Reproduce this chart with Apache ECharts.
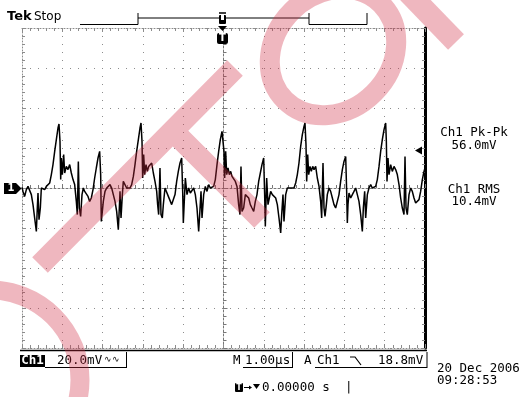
<!DOCTYPE html>
<html><head><meta charset="utf-8">
<script src="https://cdn.jsdelivr.net/npm/echarts@6/dist/echarts.min.js"></script>
<style>html,body{margin:0;padding:0;background:#fff}#c{width:520px;height:397px}</style>
</head><body><div id="c"></div>
<script>
const sweep1 = [[0.000,0.3],[0.025,-1.7],[0.066,-4.2],[0.108,-0.8],[0.149,0.8],[0.190,1.7],[0.232,-3.3],[0.273,-8.3],[0.314,-15.0],[0.356,-21.7],[0.380,-10.0],[0.397,-2.5],[0.422,-15.8],[0.455,-10.0],[0.480,0.0],[0.521,0.8],[0.563,-0.8],[0.604,0.8],[0.645,0.0],[0.687,2.5],[0.728,6.7],[0.769,11.7],[0.811,18.3],[0.852,24.2],[0.893,30.0],[0.918,32.0],[0.943,23.3],[0.960,4.2],[0.976,15.0],[1.001,6.7],[1.034,16.7],[1.059,7.5],[1.100,10.8],[1.141,9.2],[1.183,11.7],[1.224,7.5],[1.266,4.2],[1.307,1.7],[1.348,-6.7],[1.373,-13.3],[1.398,13.3],[1.423,-10.0],[1.455,-14.2],[1.489,-3.3],[1.522,0.0],[1.555,-1.7],[1.596,-0.8],[1.638,-4.2],[1.679,-6.7],[1.720,-5.0],[1.762,-0.8],[1.803,5.0],[1.844,10.0],[1.886,15.0],[1.927,18.3],[1.952,6.7],[1.968,-16.7]];
const sweep2 = [[2.018,-6.7],[2.060,-1.7],[2.101,0.0],[2.142,0.8],[2.184,1.7],[2.225,0.0],[2.266,-3.3],[2.308,-6.7],[2.349,-11.7],[2.390,-20.8],[2.415,-10.0],[2.432,-1.7],[2.457,-15.0],[2.490,-3.3],[2.514,3.3],[2.556,4.2],[2.597,0.0],[2.638,0.8],[2.680,0.0],[2.721,1.7],[2.763,5.8],[2.804,11.7],[2.845,18.3],[2.887,24.2],[2.928,30.0],[2.953,32.5],[2.978,23.3],[2.994,5.0],[3.019,16.7],[3.044,6.7],[3.077,11.7],[3.110,8.3],[3.143,10.8],[3.176,10.0],[3.218,12.5],[3.259,7.5],[3.300,3.3],[3.342,-1.7],[3.366,-8.3],[3.391,-13.3],[3.424,10.0],[3.449,-13.3],[3.482,-15.0],[3.507,-8.3],[3.548,0.0],[3.590,-0.8],[3.631,-4.2],[3.672,-5.0],[3.714,-8.3],[3.755,-7.5],[3.797,-3.3],[3.838,3.3],[3.879,8.3],[3.921,12.5],[3.962,15.0],[3.987,-1.7],[4.003,-17.5]];
const sweep3 = [[4.053,5.0],[4.094,-3.3],[4.136,0.0],[4.177,-2.5],[4.218,-1.7],[4.260,0.0],[4.301,-3.3],[4.342,-10.0],[4.384,-21.7],[4.409,-13.3],[4.442,-1.7],[4.467,-15.0],[4.508,-3.3],[4.549,0.8],[4.591,-1.7],[4.632,1.7],[4.673,0.0],[4.715,-0.8],[4.756,0.8],[4.797,4.2],[4.839,11.7],[4.880,18.3],[4.921,24.2],[4.963,28.3],[4.988,29.2],[5.012,18.3],[5.029,5.0],[5.054,18.3],[5.079,6.7],[5.112,10.0],[5.145,6.7],[5.178,8.3],[5.211,5.8],[5.252,5.0],[5.294,3.3],[5.335,0.8],[5.376,-8.3],[5.409,-13.3],[5.434,10.8],[5.459,-11.7],[5.500,-10.0],[5.542,-3.3],[5.583,-4.2],[5.625,-5.0],[5.666,-8.3],[5.707,-10.0],[5.749,-11.7],[5.790,-6.7],[5.831,-3.3],[5.873,3.3],[5.914,7.5],[5.955,11.7],[5.997,15.0],[6.021,-3.3],[6.038,-19.2]];
const sweep4 = [[6.071,5.0],[6.104,-8.3],[6.137,-5.0],[6.170,-1.7],[6.212,-3.3],[6.253,-2.5],[6.295,-5.0],[6.336,-8.3],[6.377,-15.0],[6.419,-22.5],[6.444,-13.3],[6.476,-3.3],[6.501,-16.7],[6.543,-3.3],[6.584,0.0],[6.625,0.8],[6.667,0.0],[6.708,0.8],[6.749,0.0],[6.791,2.5],[6.832,6.7],[6.873,12.5],[6.915,20.8],[6.956,26.7],[6.998,30.8],[7.022,32.5],[7.047,21.7],[7.064,3.3],[7.089,16.7],[7.114,6.7],[7.146,10.8],[7.179,8.3],[7.213,10.8],[7.246,9.2],[7.287,10.8],[7.328,5.0],[7.370,0.8],[7.411,-6.7],[7.436,-15.0],[7.469,12.5],[7.494,-10.0],[7.519,-14.2],[7.552,-8.3],[7.576,-3.3],[7.618,0.0],[7.659,-1.7],[7.701,-5.0],[7.742,-8.3],[7.783,-10.0],[7.825,-6.7],[7.866,-3.3],[7.907,3.3],[7.949,9.2],[7.990,13.3],[8.032,15.8],[8.056,-1.7],[8.073,-17.5]];
const sweep5 = [[8.089,-8.3],[8.114,-2.5],[8.156,-5.0],[8.197,-3.3],[8.238,-1.7],[8.280,0.0],[8.321,-3.3],[8.362,-6.7],[8.404,-13.3],[8.445,-21.7],[8.470,-10.0],[8.503,-1.7],[8.528,-15.0],[8.569,-3.3],[8.610,0.0],[8.652,1.7],[8.693,0.0],[8.734,-0.8],[8.776,0.8],[8.817,4.2],[8.859,10.8],[8.900,18.3],[8.941,24.2],[8.983,29.2],[9.024,32.5],[9.041,23.3],[9.057,3.3],[9.082,15.0],[9.107,6.7],[9.148,11.7],[9.189,8.3],[9.231,10.8],[9.272,9.2],[9.313,6.7],[9.355,1.7],[9.396,-5.0],[9.437,-10.0],[9.479,-13.3],[9.504,15.8],[9.529,-10.0],[9.561,-13.3],[9.603,-3.3],[9.644,0.0],[9.685,-1.7],[9.727,-5.0],[9.768,-7.5],[9.810,-8.3],[9.851,-5.8],[9.892,-1.7],[9.934,4.2],[9.975,8.3],[10.000,10.0]];

// ---- scope settings / readouts ----
const timeRangeUs = [0, 10];      // 10 divisions x 1.00 µs
const timePerDivUs = 1;
const voltRangeMv = [-80, 80];    // 8 divisions x 20.0 mV
const voltPerDivMv = 20;
const headerTexts = ['Tek', 'Stop'];
const readoutTexts = ['Ch1 Pk-Pk', '56.0mV', 'Ch1 RMS', '10.4mV'];
const statusTexts = ['Ch1', '20.0mV', 'M', '1.00µs', 'A', 'Ch1', '18.8mV'];
const dateTexts = ['20 Dec 2006', '09:28:53'];
const delayTexts = ['0.00000 s', '|'];

const trace = [].concat(sweep1, sweep2, sweep3, sweep4, sweep5);

const GRID = '#8c8c8c';
const MONO = '"DejaVu Sans Mono", monospace';
const SANS = '"DejaVu Sans", sans-serif';
const PINK = 'rgba(208,44,66,0.34)';

function borderAxis(extra) {
  return Object.assign({
    type: 'value', axisLabel: {show: false},
    axisLine: {show: true, onZero: false, lineStyle: {color: GRID, width: 1, type: [1, 2]}},
    axisTick: {show: true, inside: true, length: 4, lineStyle: {color: GRID}},
    minorTick: {show: true, splitNumber: 5, length: 3, lineStyle: {color: GRID}},
    splitLine: {show: false}
  }, extra);
}
const dotted = {color: GRID, width: 1, type: [1, 7]};

const chart = echarts.init(document.getElementById('c'), null, {renderer: 'canvas'});
const txt = (text, x, y, o) => ({type: 'text', silent: true, z: 10, style: Object.assign({text, x, y, fill: '#000', fontSize: 12.5, fontFamily: MONO, textVerticalAlign: 'middle'}, o || {})});
const ln = (x1, y1, x2, y2, w, c) => ({type: 'line', silent: true, z: 10, shape: {x1, y1, x2, y2}, style: {stroke: c || '#000', lineWidth: w || 1}});
const band = (x1, y1, x2, y2) => ({type: 'line', silent: true, z: 200, shape: {x1, y1, x2, y2}, style: {stroke: PINK, lineWidth: 22, lineCap: 'butt'}});

chart.setOption({
  animation: false,
  backgroundColor: '#fff',
  grid: {left: 22, top: 28, width: 403, height: 320, containLabel: false},
  xAxis: [
    borderAxis({min: timeRangeUs[0], max: timeRangeUs[1], interval: timePerDivUs, position: 'bottom', splitLine: {show: true, lineStyle: dotted}}),
    borderAxis({min: timeRangeUs[0], max: timeRangeUs[1], interval: timePerDivUs, position: 'top'}),
    borderAxis({min: timeRangeUs[0], max: timeRangeUs[1], interval: timePerDivUs, position: 'bottom', offset: -160,
      axisLine: {show: true, onZero: false, lineStyle: {color: '#777', width: 1, type: [2, 2]}},
      axisTick: {show: true, inside: true, length: 4, lineStyle: {color: '#777'}},
      minorTick: {show: true, splitNumber: 5, length: 3, lineStyle: {color: '#777'}}})
  ],
  yAxis: [
    borderAxis({min: voltRangeMv[0], max: voltRangeMv[1], interval: voltPerDivMv, position: 'left', splitLine: {show: true, lineStyle: dotted}}),
    borderAxis({min: voltRangeMv[0], max: voltRangeMv[1], interval: voltPerDivMv, position: 'right',
      axisLine: {show: true, onZero: false, lineStyle: {color: '#000', width: 3}}}),
    borderAxis({min: voltRangeMv[0], max: voltRangeMv[1], interval: voltPerDivMv, position: 'left', offset: -201.5,
      axisLine: {show: true, onZero: false, lineStyle: {color: '#777', width: 1, type: [2, 2]}},
      axisTick: {show: true, inside: true, length: 4, lineStyle: {color: '#777'}},
      minorTick: {show: true, splitNumber: 5, length: 3, lineStyle: {color: '#777'}}})
  ],
  series: [{
    type: 'line', xAxisIndex: 0, yAxisIndex: 0, data: trace,
    showSymbol: false, symbol: 'none', smooth: false,
    lineStyle: {color: '#000', width: 1.5}, z: 5
  }],
  graphic: [
    // header
    txt(headerTexts[0], 7, 17, {fontFamily: SANS, fontWeight: 'bold', fontSize: 13}),
    txt(headerTexts[1], 34, 17, {fontFamily: SANS, fontSize: 12}),
    // record bar
    ln(80, 24.5, 138, 24.5), ln(138, 13, 138, 24.5), ln(138, 18, 309, 18),
    ln(309, 13, 309, 24.5), ln(309, 24.5, 367, 24.5), ln(367, 13, 367, 24.5),
    ln(219, 13, 226, 13, 1.5),
    {type: 'rect', silent: true, z: 10, shape: {x: 219, y: 15, width: 7, height: 9, r: 1}, style: {fill: '#000'}},
    {type: 'rect', silent: true, z: 11, shape: {x: 221, y: 15, width: 3, height: 5}, style: {fill: '#fff'}},
    // trigger position markers
    {type: 'polygon', silent: true, z: 10, shape: {points: [[218, 26], [227, 26], [222.5, 31]]}, style: {fill: '#000'}},
    {type: 'rect', silent: true, z: 10, shape: {x: 217, y: 33, width: 11, height: 11, r: 2}, style: {fill: '#000'}},
    txt('T', 222.5, 38.5, {fill: '#fff', fontWeight: 'bold', fontSize: 10, fontFamily: SANS, textAlign: 'center'}),
    // ground marker
    {type: 'polygon', silent: true, z: 10, shape: {points: [[4, 183], [16, 183], [21.5, 188.5], [16, 194], [4, 194]]}, style: {fill: '#000'}},
    txt('1', 11, 188.5, {fill: '#fff', fontWeight: 'bold', fontSize: 10, fontFamily: SANS, textAlign: 'center'}),
    // trigger level marker
    {type: 'polygon', silent: true, z: 10, shape: {points: [[415, 150.4], [422, 146.4], [422, 154.4]]}, style: {fill: '#000'}},
    // readouts
    txt(readoutTexts[0], 474, 133, {textAlign: 'center'}),
    txt(readoutTexts[1], 474, 145.5, {textAlign: 'center'}),
    txt(readoutTexts[2], 474, 189.5, {textAlign: 'center'}),
    txt(readoutTexts[3], 474, 201.5, {textAlign: 'center'}),
    // status bar
    ln(20, 350.5, 427, 350.5, 1.5),
    {type: 'rect', silent: true, z: 10, shape: {x: 20, y: 355, width: 25, height: 12}, style: {fill: '#000'}},
    txt(statusTexts[0], 32.5, 361, {fill: '#fff', fontWeight: 'bold', textAlign: 'center'}),
    txt(statusTexts[1], 57, 361),
    txt('∿∿', 104, 360, {fontSize: 9}),
    ln(45, 367.5, 126, 367.5), ln(126.5, 352, 126.5, 368),
    txt(statusTexts[2], 233, 361),
    txt(statusTexts[3], 245, 361),
    ln(243, 367.5, 292, 367.5), ln(292.5, 352, 292.5, 368),
    txt(statusTexts[4], 304, 361),
    txt(statusTexts[5], 317, 361),
    {type: 'polyline', silent: true, z: 10, shape: {points: [[350, 357], [355, 357], [361, 365]]}, style: {stroke: '#000', lineWidth: 1.2, fill: null}},
    txt(statusTexts[6], 378, 361),
    ln(315, 367.5, 427, 367.5), ln(427, 352, 427, 368),
    // date
    txt(dateTexts[0], 437, 368.5),
    txt(dateTexts[1], 437, 380.5),
    // delay
    {type: 'rect', silent: true, z: 10, shape: {x: 235, y: 383, width: 8, height: 9, r: 1}, style: {fill: '#000'}},
    txt('T', 239, 387.5, {fill: '#fff', fontWeight: 'bold', fontSize: 8, fontFamily: SANS, textAlign: 'center'}),
    ln(244, 387.5, 250, 387.5),
    {type: 'polygon', silent: true, z: 10, shape: {points: [[249, 385.5], [249, 389.5], [252, 387.5]]}, style: {fill: '#000'}},
    {type: 'polygon', silent: true, z: 10, shape: {points: [[253, 384], [260, 384], [256.5, 389]]}, style: {fill: '#000'}},
    txt(delayTexts[0], 262, 387.5),
    txt(delayTexts[1], 345, 387.5),
    // translucent watermark
    {type: 'circle', silent: true, z: 200, shape: {cx: -10, cy: 380, r: 90}, style: {stroke: PINK, lineWidth: 19, fill: null}},
    {type: 'ellipse', silent: true, z: 200, x: 333, y: 52, rotation: Math.PI / 4, shape: {cx: 0, cy: 0, rx: 68, ry: 58}, style: {stroke: PINK, lineWidth: 20, fill: null}},
    {type: 'polygon', silent: true, z: 200, shape: {points: [[32.2, 257.3], [227.2, 60.3], [242.8, 75.7], [188.3, 130.7], [269.8, 212.2], [254.2, 227.8], [172.8, 146.4], [47.8, 272.7]]}, style: {fill: PINK}},
    band(398, -18, 456, 42)
  ]
});
</script>
</body></html>
